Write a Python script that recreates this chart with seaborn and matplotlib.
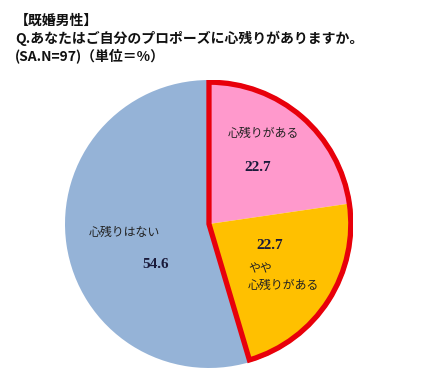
import matplotlib.pyplot as plt
import matplotlib.patches as mpatches
import seaborn as sns

# data
categories = ['心残りがある', 'やや\n心残りがある', '心残りはない']
values = [22.7, 22.7, 54.6]
colors = ['#FF99CC', '#FFC000', '#95B3D7']

title_lines = ['【既婚男性】',
               'Q.あなたはご自分のプロポーズに心残りがありますか。',
               '(SA.N=97)（単位＝%）']

sns.set_theme(style='white')
plt.rcParams['font.family'] = ['Noto Sans CJK JP', 'DejaVu Sans']

fig = plt.figure(figsize=(4.21, 3.91), dpi=100)
fig.patch.set_facecolor('white')

# title block, top left
for i, line in enumerate(title_lines):
    fig.text(15 / 421, 1 - (21 + i * 17.5) / 391, line, fontsize=10,
             fontweight='bold', color='#111111', ha='left', va='center')

ax = fig.add_axes([0.1544, 0.0588, 0.684, 0.7366])
wedges, _ = ax.pie(values, colors=colors, startangle=90, counterclock=False,
                   radius=1, wedgeprops=dict(edgecolor='none'))

# red outline round the two "has regrets" slices
share = (values[0] + values[1]) / sum(values) * 360
outline = mpatches.Wedge((0, 0), 0.985, 90 - share, 90, fill=False,
                         edgecolor='#E8000B', linewidth=3.8, joinstyle='miter')
ax.add_patch(outline)

# labels
num_style = dict(fontsize=11, fontweight='bold', ha='center', va='center',
                 color='#1a1a3a', family=['Liberation Serif'])
ax.text(0.38, 0.63, categories[0], fontsize=8.6, ha='center', va='center', color='#222222')
ax.text(0.34, 0.39, f'{values[0]}', **num_style)
ax.text(0.42, -0.15, f'{values[1]}', **num_style)
ax.text(0.27, -0.37, categories[1], fontsize=8.6, ha='left', va='center',
        color='#222222', linespacing=1.3)
ax.text(-0.59, -0.06, categories[2], fontsize=8.6, ha='center', va='center', color='#222222')
ax.text(-0.37, -0.28, f'{values[2]}', **num_style)

ax.set_xlim(-1, 1)
ax.set_ylim(-1, 1)
ax.axis('off')

fig.savefig('out.png', dpi=100)
